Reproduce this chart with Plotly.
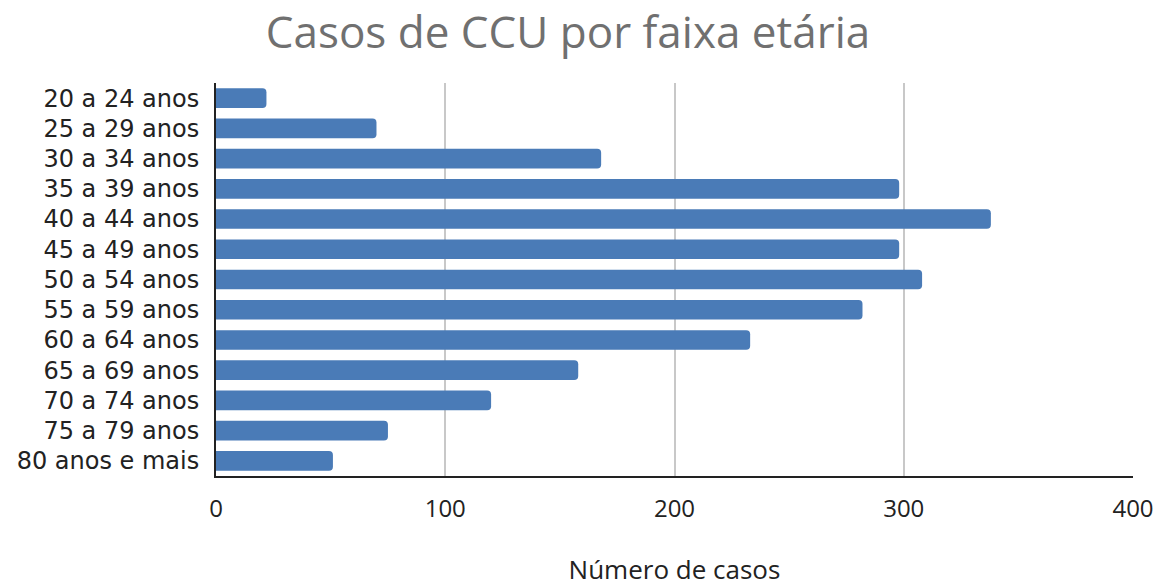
import plotly.graph_objects as go

categories = ["20 a 24 anos", "25 a 29 anos", "30 a 34 anos", "35 a 39 anos", "40 a 44 anos",
              "45 a 49 anos", "50 a 54 anos", "55 a 59 anos", "60 a 64 anos", "65 a 69 anos",
              "70 a 74 anos", "75 a 79 anos", "80 anos e mais"]
cases = [22, 70, 168, 298, 338, 298, 308, 282, 233, 158, 120, 75, 51]
x_ticks = [0, 100, 200, 300, 400]

fig = go.Figure(go.Bar(
    y=categories, x=cases, orientation="h",
    marker=dict(color="#4A7BB7", line=dict(width=0)),
))

fig.update_layout(
    width=1167, height=587,
    margin=dict(l=216, r=34, t=83, b=111),
    paper_bgcolor="white", plot_bgcolor="white",
    bargap=0.35, barcornerradius=4,
    showlegend=False,
    title=dict(text="Casos de CCU por faixa etária", x=568 / 1167, xanchor="center",
               y=1 - 33 / 587, yanchor="middle",
               font=dict(family="Open Sans", size=44, color="#707070")),
    font=dict(family="Open Sans", color="#222222"),
)
fig.update_yaxes(autorange="reversed", showline=True, linecolor="#222222", linewidth=2,
                 tickfont=dict(family="DejaVu Sans", size=24, color="#222222"),
                 ticks="", ticklabelstandoff=10, showgrid=False, automargin=False)
fig.update_xaxes(range=[0, 400], tickvals=x_ticks, showline=True, linecolor="#222222", linewidth=2,
                 showgrid=True, gridcolor="#C8C8C8", gridwidth=2, zeroline=False,
                 tickfont=dict(family="Open Sans", size=24, color="#222222"),
                 ticks="", ticklabelstandoff=10, automargin=False,
                 title=dict(text="Número de casos", standoff=56,
                            font=dict(family="Open Sans", size=26, color="#222222")))

fig.write_html("out.html", config={"displayModeBar": False},
               post_script="document.body.style.margin='0';")
